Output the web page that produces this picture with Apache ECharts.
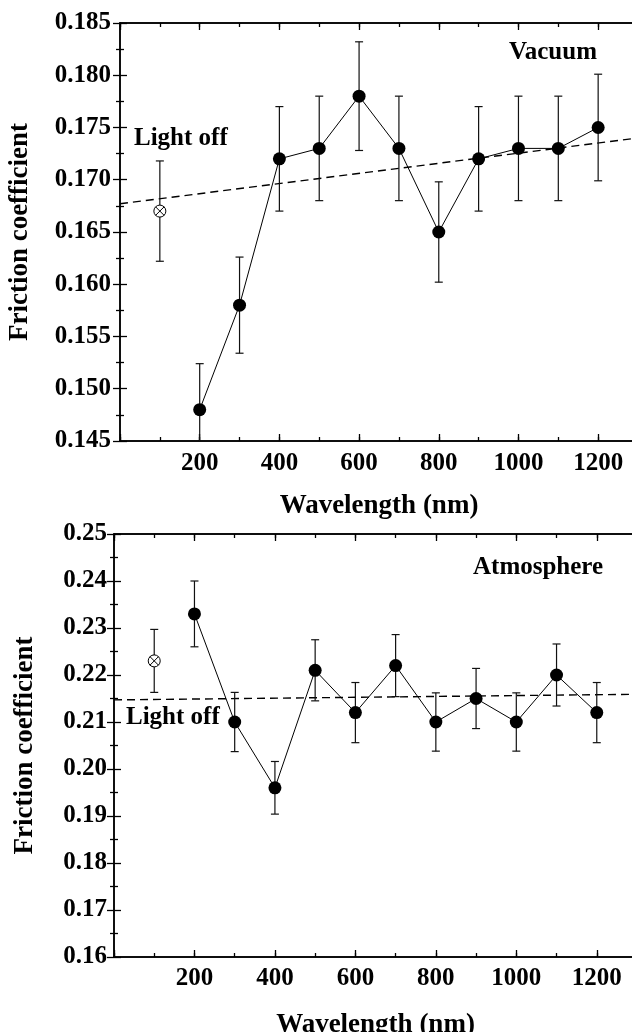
<!DOCTYPE html>
<html>
<head>
<meta charset="utf-8">
<script src="https://cdn.jsdelivr.net/npm/echarts@6/dist/echarts.min.js"></script>
<style>
  html, body { margin: 0; padding: 0; background: #fff; }
  #chart { width: 632px; height: 1032px; }
</style>
</head>
<body>
<div id="chart"></div>
<script>
// wavelength (nm) of each measurement
const wavelengths = [200, 300, 400, 500, 600, 700, 800, 900, 1000, 1100, 1200];

// vacuum: friction coefficient and error (half bar)
const vacuumFriction = [0.148, 0.158, 0.172, 0.173, 0.178, 0.173, 0.165, 0.172, 0.173, 0.173, 0.175];
const vacuumError = [0.0044, 0.0046, 0.005, 0.005, 0.0052, 0.005, 0.0048, 0.005, 0.005, 0.005, 0.0051];
const vacuumLightOff = [100, 0.167, 0.0048]; // x, value, error
const vacuumFit = [[0, 0.1677], [1300, 0.1740]];

// atmosphere
const atmosFriction = [0.233, 0.21, 0.196, 0.221, 0.212, 0.222, 0.21, 0.215, 0.21, 0.22, 0.212];
const atmosError = [0.007, 0.0063, 0.0056, 0.0065, 0.0064, 0.0066, 0.0062, 0.0064, 0.0062, 0.0066, 0.0064];
const atmosLightOff = [100, 0.223, 0.0067];
const atmosFit = [[0, 0.2147], [1300, 0.2159]];

const FONT = 'Liberation Serif, Times New Roman, serif';

const chart = echarts.init(document.getElementById('chart'));

function xAxes(gridIndex, nameGap, labelMargin) {
  const base = {
    gridIndex: gridIndex,
    type: 'value',
    min: 0,
    max: 1300,
    splitLine: { show: false },
    axisLine: { show: true, lineStyle: { color: '#000', width: 1.5 } }
  };
  return [
    Object.assign({}, base, {
      position: 'bottom',
      interval: 200,
      name: 'Wavelength (nm)',
      nameLocation: 'middle',
      nameGap: nameGap,
      nameTextStyle: { fontFamily: FONT, fontWeight: 'bold', fontSize: 27, color: '#000' },
      axisTick: { inside: true, length: 7, lineStyle: { color: '#000', width: 1.3 } },
      axisLabel: {
        margin: labelMargin,
        fontFamily: FONT, fontWeight: 'bold', fontSize: 25, color: '#000',
        formatter: v => (v > 0 && v <= 1200 && v % 200 === 0) ? String(v) : ''
      }
    }),
    Object.assign({}, base, {
      position: 'bottom',
      interval: 100,
      axisTick: { inside: true, length: 4, lineStyle: { color: '#000', width: 1.3 } },
      axisLabel: { show: false }
    }),
    Object.assign({}, base, {
      position: 'top',
      interval: 200,
      axisTick: { inside: true, length: 7, lineStyle: { color: '#000', width: 1.3 } },
      axisLabel: { show: false }
    }),
    Object.assign({}, base, {
      position: 'top',
      interval: 100,
      axisTick: { inside: true, length: 4, lineStyle: { color: '#000', width: 1.3 } },
      axisLabel: { show: false }
    })
  ];
}

function yAxes(gridIndex, min, max, interval, digits, nameGap, labelMargin) {
  const base = {
    gridIndex: gridIndex,
    type: 'value',
    min: min,
    max: max,
    interval: interval,
    splitLine: { show: false },
    axisLine: { show: true, lineStyle: { color: '#000', width: 1.5 } },
    axisTick: { inside: true, length: 7, lineStyle: { color: '#000', width: 1.3 } },
    minorTick: { show: true, splitNumber: 2, length: 4, lineStyle: { color: '#000', width: 1.3 } }
  };
  return [
    Object.assign({}, base, {
      position: 'left',
      name: 'Friction coefficient',
      nameLocation: 'middle',
      nameGap: nameGap,
      nameRotate: 90,
      nameTextStyle: { fontFamily: FONT, fontWeight: 'bold', fontSize: 27, color: '#000' },
      axisLabel: {
        margin: labelMargin,
        fontFamily: FONT, fontWeight: 'bold', fontSize: 25, color: '#000',
        formatter: v => v.toFixed(digits)
      }
    }),
    Object.assign({}, base, {
      position: 'right',
      axisLabel: { show: false }
    })
  ];
}

function pairs(xs, ys) {
  return xs.map((x, i) => [x, ys[i]]);
}

function triples(xs, ys, es) {
  return xs.map((x, i) => [x, ys[i], es[i]]);
}

function errorBars(xIdx, yIdx, data) {
  return {
    type: 'custom',
    xAxisIndex: xIdx,
    yAxisIndex: yIdx,
    clip: true,
    z: 2,
    encode: { x: 0, y: 1 },
    data: data,
    renderItem: function (params, api) {
      const x = api.value(0), v = api.value(1), e = api.value(2);
      const hi = api.coord([x, v + e]);
      const lo = api.coord([x, v - e]);
      const w = 4;
      const style = { stroke: '#111', lineWidth: 1.2 };
      return {
        type: 'group',
        children: [
          { type: 'line', shape: { x1: hi[0], y1: hi[1], x2: lo[0], y2: lo[1] }, style: style },
          { type: 'line', shape: { x1: hi[0] - w, y1: hi[1], x2: hi[0] + w, y2: hi[1] }, style: style },
          { type: 'line', shape: { x1: lo[0] - w, y1: lo[1], x2: lo[0] + w, y2: lo[1] }, style: style }
        ]
      };
    }
  };
}

function lightOffMarker(xIdx, yIdx, point) {
  return {
    type: 'custom',
    xAxisIndex: xIdx,
    yAxisIndex: yIdx,
    z: 4,
    encode: { x: 0, y: 1 },
    data: [point],
    renderItem: function (params, api) {
      const c = api.coord([api.value(0), api.value(1)]);
      const r = 6, d = r * 0.72;
      const style = { stroke: '#000', lineWidth: 1, fill: null };
      return {
        type: 'group',
        children: [
          { type: 'circle', shape: { cx: c[0], cy: c[1], r: r }, style: { stroke: '#000', lineWidth: 1, fill: '#fff' } },
          { type: 'line', shape: { x1: c[0] - d, y1: c[1] - d, x2: c[0] + d, y2: c[1] + d }, style: style },
          { type: 'line', shape: { x1: c[0] - d, y1: c[1] + d, x2: c[0] + d, y2: c[1] - d }, style: style }
        ]
      };
    }
  };
}

function dataLine(xIdx, yIdx, data) {
  return {
    type: 'line',
    xAxisIndex: xIdx,
    yAxisIndex: yIdx,
    data: data,
    z: 3,
    symbol: 'circle',
    symbolSize: 13,
    itemStyle: { color: '#000' },
    lineStyle: { color: '#000', width: 1 }
  };
}

function fitLine(xIdx, yIdx, data) {
  return {
    type: 'line',
    xAxisIndex: xIdx,
    yAxisIndex: yIdx,
    data: data,
    z: 1,
    symbol: 'none',
    lineStyle: { color: '#000', width: 1.4, type: [8, 5] }
  };
}

function note(text, x, y) {
  return {
    type: 'text',
    x: x,
    y: y,
    style: {
      text: text,
      font: 'bold 25px ' + FONT,
      fill: '#000',
      align: 'left',
      verticalAlign: 'middle'
    }
  };
}

const option = {
  animation: false,
  backgroundColor: '#fff',
  grid: [
    { left: 120, top: 23, width: 518, height: 418, outerBoundsMode: 'none' },
    { left: 114, top: 534, width: 523, height: 423, outerBoundsMode: 'none' }
  ],
  xAxis: [].concat(xAxes(0, 52, 10), xAxes(1, 55, 9)),
  yAxis: [].concat(
    yAxes(0, 0.145, 0.185, 0.005, 3, 86, 9),
    yAxes(1, 0.16, 0.25, 0.01, 2, 75, 7)
  ),
  series: [
    fitLine(0, 0, vacuumFit),
    errorBars(0, 0, triples(wavelengths, vacuumFriction, vacuumError).concat([vacuumLightOff])),
    dataLine(0, 0, pairs(wavelengths, vacuumFriction)),
    lightOffMarker(0, 0, vacuumLightOff),

    fitLine(4, 2, atmosFit),
    errorBars(4, 2, triples(wavelengths, atmosFriction, atmosError).concat([atmosLightOff])),
    dataLine(4, 2, pairs(wavelengths, atmosFriction)),
    lightOffMarker(4, 2, atmosLightOff)
  ],
  graphic: [
    note('Vacuum', 509, 53),
    note('Light off', 134, 139),
    note('Atmosphere', 473, 568),
    note('Light off', 126, 718)
  ]
};

chart.setOption(option);
</script>
</body>
</html>
